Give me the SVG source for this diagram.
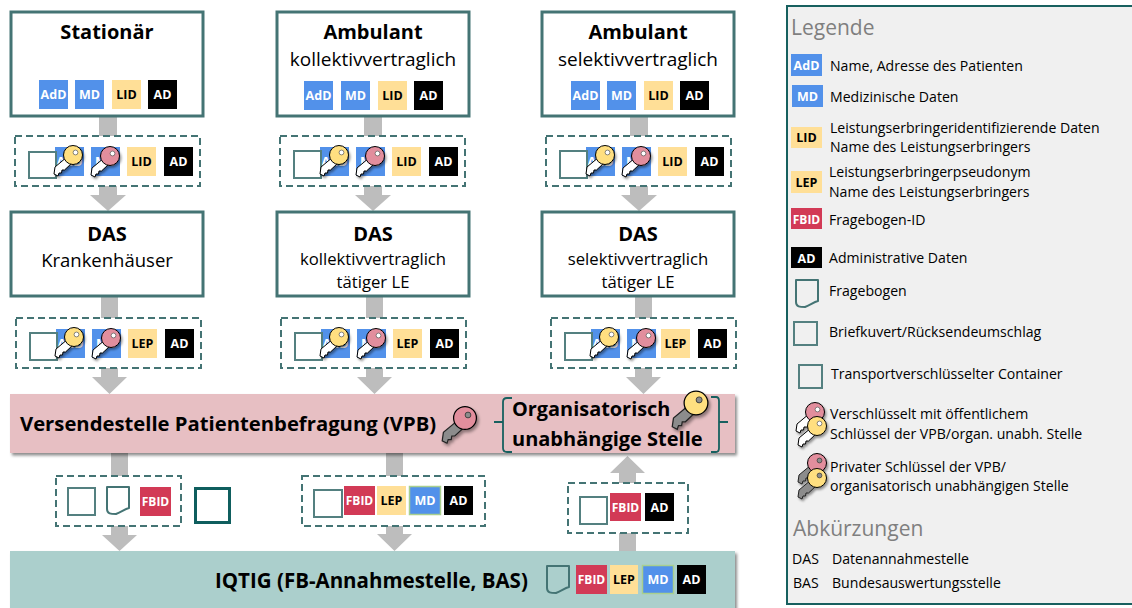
<svg xmlns="http://www.w3.org/2000/svg" width="1132" height="608" viewBox="0 0 1132 608">
<style>
text{font-family:"Open Sans","Noto Sans","Liberation Sans",sans-serif;fill:#000}
.box{fill:#fff;stroke:#447474;stroke-width:3}
.dash{fill:#fff;stroke:#447474;stroke-width:2;stroke-dasharray:7 4}
.env{fill:#fff;stroke:#548080;stroke-width:2}
.doc{fill:none;stroke:#447474;stroke-width:2;stroke-linejoin:round}
.t1{font-size:20px;font-weight:700;text-anchor:middle}
.t2{font-size:19px;text-anchor:middle}
.t3{font-size:16.7px;text-anchor:middle}
.bar{font-size:20.25px;font-weight:700}
.b{font-size:12.5px;font-weight:700;text-anchor:middle}
.w{fill:#fff}
.blue{fill:#5291ea}.yel{fill:#ffdf97}.blk{fill:#000}.red{fill:#d23a56}
.mdg{fill:#5291ea;stroke:#a9cf8e;stroke-width:1.5}
.lg{font-size:14.1px}
.hd{font-size:21px;fill:#7f7f7f}
.arr{fill:#bdbdbd}
</style>
<defs>
<filter id="sh" x="-30%" y="-30%" width="170%" height="170%"><feDropShadow dx="1.5" dy="2" stdDeviation="1.2" flood-color="#000" flood-opacity=".4"/></filter>
<filter id="bs" x="-2%" y="-10%" width="104%" height="125%"><feDropShadow dx="2" dy="2.5" stdDeviation="1.5" flood-color="#000" flood-opacity=".45"/></filter>
<g id="kw" filter="url(#sh)"><path d="M-6,2 L-18,12 L-19,19 L-15,21 L-14,18 L-11.5,18 L-11,15 L-8.500,15 L-1,8 Z" fill="#fff" stroke="#000" stroke-width="1"/><circle r="9.500"/><circle cx="2.500" cy="-2.500" r="2.400" fill="#fff" stroke="#555" stroke-width=".7"/></g>
<g id="kg" filter="url(#sh)"><path d="M-6,2 L-18,12 L-19,19 L-15,21 L-14,18 L-11.5,18 L-11,15 L-8.500,15 L-1,8 Z" fill="#8c8c8c" stroke="#222" stroke-width="1"/><circle r="9.500"/><circle cx="2.500" cy="-2.500" r="2.400" fill="#8c8c8c" stroke="#333" stroke-width=".7"/></g>
<path id="dc" d="M0,0H22V21C18,22 14,25 9,27C4,27 0,27 0,22Z"/>
</defs>

<g id="connectors">
<g class="arr">
<path d="M99,117h18v20H99Z"/><path d="M99,185h18v10h9l-18,16l-18,-16h9Z"/>
<path d="M364,117h18v20h-18Z"/><path d="M364,185h18v10h9l-18,16l-18,-16h9Z"/>
<path d="M630,117h18v20h-18Z"/><path d="M630,185h18v10h9l-18,16l-18,-16h9Z"/>
<path d="M101,297h17v22h-17Z"/><path d="M101,367h17v10h9l-17.5,17l-17.5,-17h9Z"/>
<path d="M366,297h17v22h-17Z"/><path d="M366,367h17v10h9l-17.5,17l-17.5,-17h9Z"/>
<path d="M635,297h17v22h-17Z"/><path d="M635,367h17v10h9l-17.5,17l-17.5,-17h9Z"/>
<path d="M111,453h17v24h-17Z"/><path d="M111,526h17v9h9l-17.5,16l-17.5,-16h9Z"/>
<path d="M386,453h17v23h-17Z"/><path d="M386,525h17v9h9l-17.5,17l-17.5,-17h9Z"/>
<path d="M619,533h17v18h-17Z"/><path d="M619,483h17v-10h9l-17.5,-17l-17.5,17h9Z"/>
</g>
</g>

<g id="node-stationaer"><rect class="box" x="11" y="12" width="192" height="104"/><text class="t1" x="107" y="39">Stationär</text>
<rect class="blue" x="39" y="80" width="29" height="29"/><text class="b w" x="53.500" y="99">AdD</text><rect class="blue" x="75" y="80" width="29" height="29"/><text class="b w" x="89.500" y="99">MD</text><rect class="yel" x="112" y="80" width="29" height="29"/><text class="b" x="126.500" y="99">LID</text><rect class="blk" x="148" y="80" width="29" height="29"/><text class="b w" x="162.500" y="99">AD</text></g>
<g id="node-ambulant-kollektiv"><rect class="box" x="277" y="12" width="192" height="104"/><text class="t1" x="373" y="39">Ambulant</text><text class="t2" x="373" y="66">kollektivvertraglich</text>
<rect class="blue" x="304" y="81" width="29" height="29"/><text class="b w" x="318.500" y="100">AdD</text><rect class="blue" x="341" y="81" width="29" height="29"/><text class="b w" x="355.500" y="100">MD</text><rect class="yel" x="378" y="81" width="29" height="29"/><text class="b" x="392.500" y="100">LID</text><rect class="blk" x="414" y="81" width="29" height="29"/><text class="b w" x="428.500" y="100">AD</text></g>
<g id="node-ambulant-selektiv"><rect class="box" x="542" y="12" width="192" height="104"/><text class="t1" x="638" y="39">Ambulant</text><text class="t2" x="638" y="66">selektivvertraglich</text>
<rect class="blue" x="571" y="81" width="29" height="29"/><text class="b w" x="585.500" y="100">AdD</text><rect class="blue" x="607" y="81" width="29" height="29"/><text class="b w" x="621.500" y="100">MD</text><rect class="yel" x="644" y="81" width="29" height="29"/><text class="b" x="658.500" y="100">LID</text><rect class="blk" x="680" y="81" width="29" height="29"/><text class="b w" x="694.500" y="100">AD</text></g>

<g id="node-container-1a"><rect class="dash" x="15" y="136" width="185" height="50"/><rect class="blue" x="55" y="147" width="29" height="29"/><text class="b w" x="69.500" y="166">AdD</text><rect class="env" x="29" y="152" width="27" height="26"/><rect class="blue" x="91" y="147" width="29" height="29"/><text class="b w" x="105.500" y="166">MD</text><rect class="yel" x="127" y="147" width="29" height="29"/><text class="b" x="141.500" y="166">LID</text><rect class="blk" x="164" y="147" width="29" height="29"/><text class="b w" x="178.500" y="166">AD</text><use href="#kw" x="73" y="155" fill="#ffdf80" stroke="#000"/><use href="#kw" x="110" y="156" fill="#e28e9d" stroke="#000"/></g>
<g id="node-container-1b"><rect class="dash" x="280" y="136" width="185" height="50"/><rect class="blue" x="320" y="147" width="29" height="29"/><text class="b w" x="334.500" y="166">AdD</text><rect class="env" x="294" y="151" width="27" height="27"/><rect class="blue" x="356" y="147" width="29" height="29"/><text class="b w" x="370.500" y="166">MD</text><rect class="yel" x="392" y="147" width="29" height="29"/><text class="b" x="406.500" y="166">LID</text><rect class="blk" x="429" y="147" width="29" height="29"/><text class="b w" x="443.500" y="166">AD</text><use href="#kw" x="339" y="155" fill="#ffdf80" stroke="#000"/><use href="#kw" x="375" y="156" fill="#e28e9d" stroke="#000"/></g>
<g id="node-container-1c"><rect class="dash" x="546" y="136" width="185" height="50"/><rect class="blue" x="586" y="147" width="29" height="29"/><text class="b w" x="600.500" y="166">AdD</text><rect class="env" x="560" y="151" width="27" height="27"/><rect class="blue" x="622" y="147" width="29" height="29"/><text class="b w" x="636.500" y="166">MD</text><rect class="yel" x="658" y="147" width="29" height="29"/><text class="b" x="672.500" y="166">LID</text><rect class="blk" x="695" y="147" width="29" height="29"/><text class="b w" x="709.500" y="166">AD</text><use href="#kw" x="605" y="155" fill="#ffdf80" stroke="#000"/><use href="#kw" x="641" y="156" fill="#e28e9d" stroke="#000"/></g>

<g id="node-das-kh"><rect class="box" x="11" y="212" width="192" height="84"/><text class="t1" x="107" y="241">DAS</text><text class="t2" x="107" y="267" style="font-size:18.5px">Krankenhäuser</text></g>
<g id="node-das-kollektiv"><rect class="box" x="277" y="212" width="192" height="84"/><text class="t1" x="373" y="241">DAS</text><text class="t3" x="373" y="265">kollektivvertraglich</text><text class="t3" x="373" y="288">tätiger LE</text></g>
<g id="node-das-selektiv"><rect class="box" x="542" y="212" width="192" height="84"/><text class="t1" x="638" y="241">DAS</text><text class="t3" x="638" y="265">selektivvertraglich</text><text class="t3" x="638" y="288">tätiger LE</text></g>

<g id="node-container-2a"><rect class="dash" x="16" y="318" width="185" height="50"/><rect class="blue" x="56" y="329" width="29" height="29"/><text class="b w" x="70.500" y="348">AdD</text><rect class="env" x="30" y="333" width="27" height="27"/><rect class="blue" x="92" y="329" width="29" height="29"/><text class="b w" x="106.500" y="348">MD</text><rect class="yel" x="128" y="329" width="29" height="29"/><text class="b" x="142.500" y="348">LEP</text><rect class="blk" x="165" y="329" width="29" height="29"/><text class="b w" x="179.500" y="348">AD</text><use href="#kw" x="74" y="337" fill="#ffdf80" stroke="#000"/><use href="#kw" x="111" y="338" fill="#e28e9d" stroke="#000"/></g>
<g id="node-container-2b"><rect class="dash" x="281" y="318" width="185" height="50"/><rect class="blue" x="321" y="329" width="29" height="29"/><text class="b w" x="335.500" y="348">AdD</text><rect class="env" x="295" y="333" width="27" height="27"/><rect class="blue" x="357" y="329" width="29" height="29"/><text class="b w" x="371.500" y="348">MD</text><rect class="yel" x="393" y="329" width="29" height="29"/><text class="b" x="407.500" y="348">LEP</text><rect class="blk" x="430" y="329" width="29" height="29"/><text class="b w" x="444.500" y="348">AD</text><use href="#kw" x="339" y="337" fill="#ffdf80" stroke="#000"/><use href="#kw" x="376" y="338" fill="#e28e9d" stroke="#000"/></g>
<g id="node-container-2c"><rect class="dash" x="551" y="318" width="185" height="50"/><rect class="blue" x="591" y="329" width="29" height="29"/><text class="b w" x="605.500" y="348">AdD</text><rect class="env" x="565" y="333" width="27" height="27"/><rect class="blue" x="627" y="329" width="29" height="29"/><text class="b w" x="641.500" y="348">MD</text><rect class="yel" x="661" y="329" width="29" height="29"/><text class="b" x="675.500" y="348">LEP</text><rect class="blk" x="698" y="329" width="29" height="29"/><text class="b w" x="712.500" y="348">AD</text><use href="#kw" x="609" y="337" fill="#ffdf80" stroke="#000"/><use href="#kw" x="646" y="338" fill="#e28e9d" stroke="#000"/></g>

<g id="node-vpb"><rect x="10" y="394" width="725" height="59" fill="#e7bfc3" filter="url(#bs)"/><text class="bar" x="20" y="431">Versendestelle Patientenbefragung (VPB)</text>
<use href="#kg" transform="translate(465,418) scale(1.2)" fill="#e28e9d" stroke="#000"/>
<path d="M512,398h-5q-4,0 -4,4v20h-9h9v26q0,4 4,4h5" fill="none" stroke="#17605f" stroke-width="1.8"/><path d="M711,397h5q3,0 3,4v21h9h-9v26q0,4 -3,4h-5" fill="none" stroke="#17605f" stroke-width="1.8"/>
<text class="bar" x="512" y="416" style="font-size:19.9px">Organisatorisch</text><text class="bar" x="512" y="446" style="font-size:20px">unabhängige Stelle</text>
<use href="#kg" transform="translate(696,403) scale(1.25)" fill="#ffdf80" stroke="#000"/></g>

<g id="node-container-3a"><rect class="dash" x="56" y="476" width="125" height="50"/><rect class="env" x="68" y="488" width="27" height="27"/><use href="#dc" x="107" y="487" class="doc"/><rect class="red" x="140" y="487" width="31" height="29"/><text class="b w" x="155.500" y="506" style="font-size:12px">FBID</text></g>
<g id="node-envelope-large"><rect x="195.500" y="488.500" width="34" height="34" fill="#fff" stroke="#0f5e5e" stroke-width="3"/></g>
<g id="node-container-3b"><rect class="dash" x="302" y="476" width="183" height="50"/><rect class="env" x="314" y="490" width="28" height="27"/><rect class="red" x="344" y="486" width="31" height="29"/><text class="b w" x="359.500" y="505" style="font-size:12px">FBID</text><rect class="yel" x="377" y="486" width="29" height="29"/><text class="b" x="391.500" y="505">LEP</text><rect class="mdg" x="409.500" y="486.500" width="31" height="28"/><text class="b w" x="425" y="505">MD</text><rect class="blk" x="444" y="486" width="29" height="29"/><text class="b w" x="458.500" y="505">AD</text></g>
<g id="node-container-3c"><rect class="dash" x="568" y="483" width="120" height="50"/><rect class="env" x="580" y="497" width="27" height="27"/><rect class="red" x="610" y="493" width="31" height="28"/><text class="b w" x="625.500" y="512" style="font-size:12px">FBID</text><rect class="blk" x="645" y="493" width="29" height="28"/><text class="b w" x="659.500" y="512">AD</text></g>

<g id="node-iqtig"><rect x="10" y="551" width="725" height="62" fill="#abcfcc" filter="url(#bs)"/><text class="bar" x="215" y="588" style="font-size:20.5px">IQTIG (FB-Annahmestelle, BAS)</text>
<use href="#dc" x="547" y="566" class="doc"/><rect class="red" x="576" y="565" width="31" height="29"/><text class="b w" x="591.500" y="584" style="font-size:12px">FBID</text><rect class="yel" x="610" y="565" width="28" height="29"/><text class="b" x="624" y="584">LEP</text><rect class="mdg" x="642.500" y="565.500" width="31" height="28"/><text class="b w" x="658" y="584">MD</text><rect class="blk" x="677" y="565" width="29" height="29"/><text class="b w" x="691.500" y="584">AD</text></g>

<g id="legend"><rect x="787" y="6" width="360" height="598" fill="#f0f0f0" stroke="#17605f" stroke-width="2"/>
<text class="hd" x="791" y="35">Legende</text>
<rect class="blue" x="791" y="54" width="31" height="22"/><text class="b w" x="806.500" y="70">AdD</text><text class="lg" x="830" y="71">Name, Adresse des Patienten</text>
<rect class="blue" x="792" y="85" width="31" height="22"/><text class="b w" x="807.500" y="101">MD</text><text class="lg" x="830" y="102">Medizinische Daten</text>
<rect class="yel" x="791" y="127" width="31" height="21"/><text class="b" x="806.500" y="142">LID</text><text class="lg" x="830" y="133">Leistungserbringeridentifizierende Daten</text><text class="lg" x="830" y="152">Name des Leistungserbringers</text>
<rect class="yel" x="791" y="171" width="31" height="22"/><text class="b" x="806.500" y="187">LEP</text><text class="lg" x="829" y="177">Leistungserbringerpseudonym</text><text class="lg" x="829" y="197">Name des Leistungserbringers</text>
<rect class="red" x="791" y="208" width="31" height="21"/><text class="b w" x="806.500" y="224" style="font-size:12px">FBID</text><text class="lg" x="829" y="225">Fragebogen-ID</text>
<rect class="blk" x="791" y="247" width="31" height="21"/><text class="b w" x="806.500" y="263">AD</text><text class="lg" x="829" y="263">Administrative Daten</text>
<use href="#dc" x="796" y="280" class="doc"/><text class="lg" x="829" y="296">Fragebogen</text>
<rect x="794" y="322" width="23" height="23" fill="none" stroke="#548080" stroke-width="2"/><text class="lg" x="829" y="337">Briefkuvert/Rücksendeumschlag</text>
<rect x="799" y="365" width="23" height="23" fill="none" stroke="#548080" stroke-width="2"/><text class="lg" x="831" y="379">Transportverschlüsselter Container</text>
<use href="#kw" x="815" y="412" fill="#e28e9d" stroke="#000"/><use href="#kw" x="817" y="426" fill="#ffdf80" stroke="#000"/>
<text class="lg" x="830" y="419">Verschlüsselt mit öffentlichem</text><text class="lg" x="830" y="439">Schlüssel der VPB/organ. unabh. Stelle</text>
<use href="#kg" x="817" y="463" fill="#e28e9d" stroke="#000"/><use href="#kg" x="817" y="478" fill="#ffdf80" stroke="#000"/>
<text class="lg" x="830" y="472">Privater Schlüssel der VPB/</text><text class="lg" x="830" y="491">organisatorisch unabhängigen Stelle</text>
<text class="hd" x="793" y="536">Abkürzungen</text>
<text class="lg" x="792" y="564">DAS</text><text class="lg" x="832" y="564">Datenannahmestelle</text>
<text class="lg" x="793" y="588">BAS</text><text class="lg" x="832" y="588">Bundesauswertungsstelle</text>
</g>
</svg>
